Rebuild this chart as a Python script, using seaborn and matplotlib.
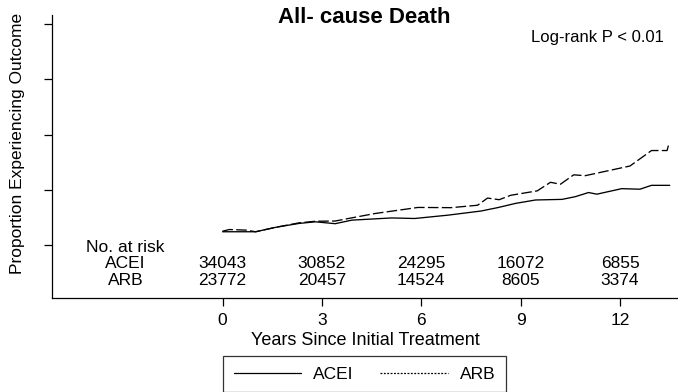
import numpy as np
import pandas as pd
import matplotlib
matplotlib.use("Agg")
import matplotlib.pyplot as plt
from matplotlib.lines import Line2D
import seaborn as sns

# ---- data ----
acei_t = [0.0, 1.0, 1.6, 2.3, 2.8, 3.4, 3.9, 5.1, 5.8, 6.8, 7.8, 8.3, 8.85, 9.45, 10.25, 10.65, 11.05, 11.3, 12.05, 12.6, 12.95, 13.5]
acei_y = [0.024, 0.024, 0.032, 0.039, 0.042, 0.0386, 0.045, 0.049, 0.048, 0.054, 0.0615, 0.0676, 0.0754, 0.0815, 0.0826, 0.0875, 0.095, 0.092, 0.102, 0.101, 0.108, 0.108]
arb_t = [0.0, 0.2, 0.7, 1.0, 1.6, 2.3, 2.8, 3.4, 3.8, 4.6, 5.9, 6.9, 7.7, 8.0, 8.35, 8.7, 9.5, 9.9, 10.2, 10.6, 10.95, 12.3, 12.95, 13.42, 13.46]
arb_y = [0.025, 0.028, 0.027, 0.024, 0.032, 0.040, 0.043, 0.0434, 0.048, 0.057, 0.068, 0.0676, 0.072, 0.085, 0.082, 0.090, 0.098, 0.1135, 0.110, 0.127, 0.1255, 0.143, 0.171, 0.171, 0.180]

risk_times = [0, 3, 6, 9, 12]
risk_acei = [34043, 30852, 24295, 16072, 6855]
risk_arb = [23772, 20457, 14524, 8605, 3374]
groups = ["ACEI", "ARB"]

xticks = [0, 3, 6, 9, 12]
yticks = [0.0, 0.1, 0.2, 0.3, 0.4]

sns.set_style("ticks")
plt.rcParams["font.family"] = ["Liberation Sans", "DejaVu Sans"]
plt.rcParams["font.size"] = 12
plt.rcParams["text.color"] = "black"
plt.rcParams["axes.labelcolor"] = "black"

fig = plt.figure(figsize=(6.78, 3.92), dpi=100)
ax = fig.add_axes([52 / 678, 1 - 298 / 392, (678 - 52) / 678, (298 - 15) / 392])

df_acei = pd.DataFrame({"t": acei_t, "y": acei_y})
df_arb = pd.DataFrame({"t": arb_t, "y": arb_y})
sns.lineplot(data=df_acei, x="t", y="y", ax=ax, color="black", lw=0.95, estimator=None, sort=False)
sns.lineplot(data=df_arb, x="t", y="y", ax=ax, color="black", lw=0.95, estimator=None, sort=False,
             dashes=False, linestyle=(0, (8, 2.5)))

ax.set_xlim(-5.15, 13.75)
ax.set_ylim(-0.0959, 0.4163)
ax.set_xticks(xticks)
ax.set_xticklabels([str(v) for v in xticks])
ax.set_yticks(yticks)
ax.set_yticklabels([])
ax.tick_params(axis="both", colors="black", labelcolor="black", length=6, width=0.9, labelsize=12.5)
ax.tick_params(axis="x", pad=4.5)
for s in ["top", "right"]:
    ax.spines[s].set_visible(False)
for s in ["left", "bottom"]:
    ax.spines[s].set_color("black")
    ax.spines[s].set_linewidth(0.9)

ax.set_xlabel("Years Since Initial Treatment", fontsize=13, labelpad=3, color="black")
ax.set_ylabel("Proportion Experiencing Outcome", fontsize=12.5, color="black")
ax.yaxis.set_label_coords(-0.043, 0.546)
fig.text(364.5 / 678, 1 - 17.5 / 392, "All- cause Death", ha="center", va="center",
         fontsize=16, fontweight="bold", color="black")

ax.text((664 - 52) / 626, 0.92, "Log-rank P < 0.01", transform=ax.transAxes, ha="right", va="center",
        fontsize=12, color="black")

# number at risk table
lab_x = -2.93
ax.text(lab_x, -0.0036, "No. at risk", ha="center", va="center", fontsize=12.5, color="black")
ax.text(lab_x, -0.0326, groups[0], ha="center", va="center", fontsize=12.5, color="black")
ax.text(lab_x, -0.065, groups[1], ha="center", va="center", fontsize=12.5, color="black")
for t, a, b in zip(risk_times, risk_acei, risk_arb):
    ax.text(t, -0.0326, str(a), ha="center", va="center", fontsize=12.5, color="black")
    ax.text(t, -0.065, str(b), ha="center", va="center", fontsize=12.5, color="black")

handles = [Line2D([], [], color="black", lw=0.9),
           Line2D([], [], color="black", lw=0.9, linestyle=(0, (1.5, 1.2)))]
leg = fig.legend(handles, groups, loc="center", bbox_to_anchor=(364.5 / 678, 1 - 374 / 392),
                 ncol=2, frameon=True, fancybox=False, fontsize=12.5, handlelength=3.9,
                 handletextpad=0.7, columnspacing=1.5, borderpad=0.6, borderaxespad=0,
                 labelcolor="black")
leg.get_frame().set_edgecolor("black")
leg.get_frame().set_linewidth(0.9)

fig.savefig("out.png", dpi=100)
